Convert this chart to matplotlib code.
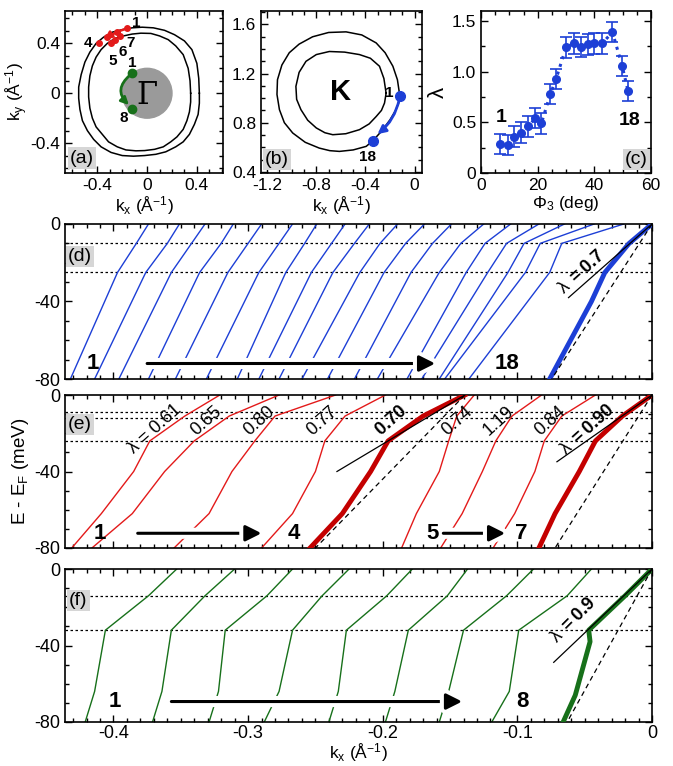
import numpy as np
import matplotlib
matplotlib.use("Agg")
import matplotlib.pyplot as plt
import matplotlib.patheffects as pe
from matplotlib.ticker import MultipleLocator, FuncFormatter

plt.rcParams['font.family'] = ['Liberation Sans', 'DejaVu Sans']
plt.rcParams['axes.unicode_minus'] = False
plt.rcParams['mathtext.fontset'] = 'custom'
plt.rcParams['mathtext.rm'] = 'Liberation Sans'
plt.rcParams['mathtext.it'] = 'Liberation Sans:italic'
plt.rcParams['mathtext.bf'] = 'Liberation Sans:bold'

BLUE = "#1d3fd6"
RED = "#e31a1a"
DRED = "#c40000"
GREEN = "#17701a"
BOXGRAY = "#d6d6d6"

# ---- (a) Fermi surface around Gamma ----
OUTER_A_KX = [0.42, 0.415, 0.40, 0.36, 0.30, 0.22, 0.14, 0.05, -0.04, -0.12, -0.20, -0.28,
              -0.35, -0.41, -0.46, -0.50, -0.53, -0.55, -0.55, -0.54, -0.52, -0.48, -0.43,
              -0.37, -0.29, -0.20, -0.11, -0.02, 0.07, 0.15, 0.23, 0.29, 0.34, 0.38, 0.41,
              0.42, 0.42]
OUTER_A_KY = [0.00, 0.12, 0.24, 0.35, 0.42, 0.47, 0.505, 0.525, 0.53, 0.525, 0.51, 0.49,
              0.45, 0.40, 0.33, 0.25, 0.15, 0.05, -0.04, -0.13, -0.22, -0.30, -0.37,
              -0.43, -0.475, -0.50, -0.505, -0.50, -0.49, -0.47, -0.43, -0.39, -0.33, -0.25,
              -0.17, -0.08, 0.00]
INNER_A_KX = [0.35, 0.345, 0.33, 0.29, 0.23, 0.17, 0.10, 0.03, -0.05, -0.12, -0.19, -0.26,
              -0.32, -0.37, -0.41, -0.44, -0.46, -0.47, -0.47, -0.46, -0.44, -0.41, -0.36,
              -0.31, -0.24, -0.17, -0.09, -0.02, 0.06, 0.13, 0.19, 0.24, 0.29, 0.32, 0.34,
              0.35, 0.35]
INNER_A_KY = [0.00, 0.10, 0.20, 0.31, 0.38, 0.43, 0.46, 0.48, 0.482, 0.475, 0.46, 0.44,
              0.40, 0.35, 0.29, 0.22, 0.14, 0.05, -0.03, -0.12, -0.20, -0.27, -0.33,
              -0.39, -0.43, -0.455, -0.462, -0.46, -0.45, -0.43, -0.39, -0.35, -0.29, -0.22,
              -0.15, -0.07, 0.00]
RED_KX = [-0.16, -0.24, -0.32, -0.39, -0.29, -0.26, -0.22]
RED_KY = [0.52, 0.49, 0.45, 0.40, 0.40, 0.43, 0.46]
GREEN_KX = [-0.12, -0.12]
GREEN_KY = [0.16, -0.13]

# ---- (b) Fermi surface around K ----
OUTER_B_KX = [-0.12, -0.14, -0.177, -0.24, -0.313, -0.43, -0.558, -0.70, -0.83, -0.94, -1.02,
              -1.08, -1.116, -1.12, -1.10, -1.06, -0.992, -0.89, -0.776, -0.69, -0.612,
              -0.50, -0.394, -0.34, -0.27, -0.20, -0.155, -0.13, -0.12]
OUTER_B_KY = [1.015, 1.15, 1.26, 1.37, 1.45, 1.515, 1.54, 1.535, 1.50, 1.44, 1.37,
              1.27, 1.15, 1.03, 0.906, 0.80, 0.716, 0.64, 0.593, 0.572, 0.566,
              0.578, 0.607, 0.653, 0.73, 0.824, 0.90, 0.96, 1.015]
INNER_B_KX = [-0.232, -0.25, -0.286, -0.36, -0.449, -0.57, -0.694, -0.80, -0.884, -0.94,
              -0.966, -0.96, -0.925, -0.87, -0.80, -0.73, -0.666, -0.56, -0.449, -0.37,
              -0.313, -0.27, -0.245, -0.232]
INNER_B_KY = [1.04, 1.16, 1.26, 1.325, 1.355, 1.375, 1.38, 1.355, 1.30, 1.21,
              1.096, 0.99, 0.906, 0.82, 0.757, 0.718, 0.702, 0.71, 0.743, 0.79,
              0.85, 0.90, 0.96, 1.04]
BLUE_KX = [-0.12, -0.34]
BLUE_KY = [1.015, 0.653]

# ---- (c) coupling constant vs angle ----
PHI = [6.8, 9.4, 11.8, 14.2, 16.6, 19.2, 21.3, 24.5, 26.5, 30.0, 32.7, 35.3, 37.6,
       40.0, 42.7, 46.4, 49.8, 51.9]
LAM = [0.29, 0.28, 0.36, 0.40, 0.46, 0.54, 0.49, 0.78, 0.93, 1.24, 1.28, 1.245, 1.27,
       1.28, 1.28, 1.39, 1.06, 0.81]
LAM_ERR = [0.10, 0.10, 0.10, 0.10, 0.10, 0.10, 0.10, 0.10, 0.10, 0.10, 0.10, 0.10, 0.10,
           0.10, 0.10, 0.10, 0.10, 0.10]

# ---- (d) blue dispersions (thin, offset) ----
D_E = [0, -10, -25, -80]
D_K0 = [-0.374, -0.351, -0.332, -0.311, -0.290, -0.267, -0.249, -0.228, -0.210,
        -0.189, -0.169, -0.149, -0.125, -0.105, -0.084, -0.065, -0.043, -0.021]
D_K10 = [-0.383, -0.360, -0.342, -0.320, -0.300, -0.277, -0.258, -0.238, -0.221,
         -0.202, -0.183, -0.163, -0.142, -0.124, -0.108, -0.095, -0.083, -0.067]
D_K25 = [-0.397, -0.376, -0.357, -0.336, -0.315, -0.292, -0.272, -0.253, -0.237,
         -0.217, -0.199, -0.179, -0.158, -0.138, -0.122, -0.107, -0.094, -0.076]
D_K80 = [-0.432, -0.414, -0.396, -0.374, -0.354, -0.331, -0.308, -0.292, -0.277,
         -0.260, -0.241, -0.221, -0.204, -0.182, -0.171, -0.158, -0.154, -0.136]
D_THICK_E = [0, -10, -25, -40, -80]
D_THICK_K = [0.0, -0.017, -0.035, -0.045, -0.076]

# ---- (e) red dispersions ----
E_E = [0, -11, -24, -40, -62, -80]
E_THIN = [
    [-0.321, -0.347, -0.373, -0.385, -0.409, -0.431],
    [-0.277, -0.314, -0.340, -0.362, -0.386, -0.416],
    [-0.235, -0.280, -0.295, -0.312, -0.329, -0.355],
    [-0.198, -0.228, -0.243, -0.250, -0.267, -0.290],
    [-0.132, -0.145, -0.151, -0.158, -0.175, -0.186],
    [-0.082, -0.104, -0.116, -0.126, -0.141, -0.157],
    [-0.042, -0.067, -0.080, -0.087, -0.102, -0.118],
]
E_THICK = [
    [-0.139, -0.170, -0.196, -0.209, -0.230, -0.254],
    [0.000, -0.022, -0.042, -0.054, -0.072, -0.084],
]
E_LAMBDAS = ["0.61", "0.65", "0.80", "0.77", "0.70", "0.74", "1.19", "0.84", "0.90"]

# ---- (f) green dispersions ----
F_E = [0, -14, -32, -64, -80]
F_THIN = [
    [-0.353, -0.374, -0.406, -0.414, -0.421],
    [-0.310, -0.332, -0.357, -0.364, -0.371],
    [-0.267, -0.286, -0.317, -0.322, -0.329],
    [-0.225, -0.245, -0.267, -0.277, -0.288],
    [-0.178, -0.197, -0.227, -0.233, -0.240],
    [-0.137, -0.152, -0.181, -0.191, -0.198],
    [-0.088, -0.108, -0.140, -0.151, -0.158],
    [-0.045, -0.063, -0.099, -0.106, -0.119],
]
F_THICK_E = [0, -14, -32, -38, -66, -80]
F_THICK_K = [0.0, -0.020, -0.047, -0.046, -0.057, -0.066]

W, H = 673, 766
fig = plt.figure(figsize=(W / 100, H / 100), dpi=100)


def add_ax(x, y, w, h):
    return fig.add_axes([x / W, 1 - (y + h) / H, w / W, h / H])


def fmt1(v, p):
    return "0" if abs(v) < 1e-9 else f"{v:.1f}"


def style(ax, xmaj, xmin, ymaj, ymin, size=12.5):
    ax.xaxis.set_major_locator(MultipleLocator(xmaj))
    ax.xaxis.set_minor_locator(MultipleLocator(xmin))
    ax.yaxis.set_major_locator(MultipleLocator(ymaj))
    ax.yaxis.set_minor_locator(MultipleLocator(ymin))
    ax.tick_params(which='both', direction='in', top=True, right=True,
                   labelsize=size, width=1)
    ax.tick_params(which='major', length=5)
    ax.tick_params(which='minor', length=3)
    for s in ax.spines.values():
        s.set_linewidth(1.2)


def panel_label(ax, txt, x, y, ha='left', va='bottom'):
    ax.text(x, y, txt, transform=ax.transAxes, fontsize=14, ha=ha, va=va,
            bbox=dict(facecolor=BOXGRAY, edgecolor='none', pad=1.5))


KX_LABEL = r"k$_\mathrm{x}$ (Å$^{-1}$)"

# ---------------- (a) ----------------
ax = add_ax(65, 11, 158, 162)
ax.add_patch(plt.Circle((0, 0), 0.2, color='#9a9a9a', zorder=1))
ax.plot(OUTER_A_KX, OUTER_A_KY, color='k', lw=1.1)
ax.plot(INNER_A_KX, INNER_A_KY, color='k', lw=1.1)
ax.text(0.0, -0.02, "Γ", fontsize=22, family='DejaVu Serif', ha='center', va='center')
ax.plot(RED_KX, RED_KY, 'o', color=RED, ms=4, zorder=4)
ax.annotate("", xy=(RED_KX[3] + 0.03, RED_KY[3] + 0.02), xytext=(RED_KX[0], RED_KY[0]),
            arrowprops=dict(arrowstyle='-|>', color=RED, lw=1.8, mutation_scale=11,
                            connectionstyle="arc3,rad=0.1"), zorder=5)
ax.plot(GREEN_KX, GREEN_KY, 'o', color=GREEN, ms=6, zorder=4)
ax.annotate("", xy=(GREEN_KX[1] - 0.01, GREEN_KY[1] + 0.02), xytext=(GREEN_KX[0], GREEN_KY[0]),
            arrowprops=dict(arrowstyle='-|>', color=GREEN, lw=2, mutation_scale=11,
                            connectionstyle="arc3,rad=0.6"), zorder=5)
for t, (x, y) in zip(["1", "4", "5", "6", "7"],
                     [(-0.09, 0.56), (-0.475, 0.40), (-0.28, 0.26), (-0.20, 0.33), (-0.13, 0.40)]):
    ax.text(x, y, t, fontsize=11, fontweight='bold', ha='center', va='center')
ax.text(-0.12, 0.24, "1", fontsize=11, fontweight='bold', ha='center', va='center')
ax.text(-0.19, -0.20, "8", fontsize=11, fontweight='bold', ha='center', va='center')
ax.set_xlim(-0.66, 0.61)
ax.set_ylim(-0.64, 0.66)
style(ax, 0.4, 0.1, 0.4, 0.1)
ax.xaxis.set_major_formatter(FuncFormatter(lambda v, p: f"{v:g}"))
ax.yaxis.set_major_formatter(FuncFormatter(lambda v, p: f"{v:g}"))
ax.set_xlabel(KX_LABEL, fontsize=12.5, labelpad=1)
ax.set_ylabel(r"k$_\mathrm{y}$ (Å$^{-1}$)", fontsize=12.5, labelpad=0)
panel_label(ax, "(a)", 0.03, 0.04)

# ---------------- (b) ----------------
ax = add_ax(261, 11, 161, 162)
ax.plot(OUTER_B_KX, OUTER_B_KY, color='k', lw=1.1)
ax.plot(INNER_B_KX, INNER_B_KY, color='k', lw=1.1)
ax.text(-0.6, 1.05, "K", fontsize=21, fontweight='bold', ha='center', va='center')
ax.plot(BLUE_KX, BLUE_KY, 'o', color=BLUE, ms=7, zorder=4)
ax.annotate("", xy=(BLUE_KX[1] + 0.02, BLUE_KY[1] + 0.04), xytext=(BLUE_KX[0], BLUE_KY[0]),
            arrowprops=dict(arrowstyle='-|>', color=BLUE, lw=2, mutation_scale=12,
                            connectionstyle="arc3,rad=-0.2"), zorder=5)
ax.text(-0.21, 1.04, "1", fontsize=11, fontweight='bold', ha='center', va='center')
ax.text(-0.38, 0.52, "18", fontsize=11, fontweight='bold', ha='center', va='center')
ax.set_xlim(-1.25, 0.06)
ax.set_ylim(0.39, 1.71)
style(ax, 0.4, 0.1, 0.4, 0.1)
ax.xaxis.set_major_formatter(FuncFormatter(lambda v, p: f"{v:g}"))
ax.yaxis.set_major_formatter(FuncFormatter(lambda v, p: f"{v:g}"))
ax.set_xlabel(KX_LABEL, fontsize=12.5, labelpad=1)
panel_label(ax, "(b)", 0.025, 0.03)

# ---------------- (c) ----------------
ax = add_ax(481, 11, 170, 162)
ax.plot(PHI, LAM, ':', color=BLUE, lw=2.2)
ax.errorbar(PHI, LAM, yerr=LAM_ERR, fmt='o', color=BLUE, ms=5.5, capsize=4,
            elinewidth=1.2, capthick=1.2)
ax.text(7, 0.55, "1", fontsize=14, fontweight='bold', ha='center', va='center')
ax.text(52.5, 0.52, "18", fontsize=14, fontweight='bold', ha='center', va='center')
ax.set_xlim(0, 60)
ax.set_ylim(0, 1.6)
style(ax, 20, 5, 0.5, 0.25)
ax.yaxis.set_major_formatter(FuncFormatter(fmt1))
ax.set_xlabel(r"Φ$_3$ (deg)", fontsize=12.5, labelpad=1)
ax.set_ylabel("λ", fontsize=16, labelpad=2)
panel_label(ax, "(c)", 0.98, 0.03, ha='right')


# ---------------- main panels ----------------
def main_axes(y, h):
    a = add_ax(65, y, 587, h)
    a.set_xlim(-0.436, 0)
    a.set_ylim(-80, 0)
    style(a, 0.1, 0.01, 40, 10, size=13)
    a.xaxis.set_major_formatter(FuncFormatter(fmt1))
    a.yaxis.set_major_formatter(FuncFormatter(lambda v, p: f"{v:.0f}"))
    return a


def arrow(a, x0, x1, e):
    ann = a.annotate("", xy=(x1, e), xytext=(x0, e),
                     arrowprops=dict(arrowstyle='-|>', color='k', lw=2.2,
                                     mutation_scale=24, shrinkA=0, shrinkB=0), zorder=6)
    ann.arrow_patch.set_path_effects([pe.Stroke(linewidth=8, foreground='white'), pe.Normal()])


def hlines(a, levels):
    for e in levels:
        a.axhline(e, color='k', lw=0.9, ls=(0, (2, 2)), zorder=1)


def num(a, x, e, t):
    a.text(x, e, t, fontsize=16, fontweight='bold', ha='center', va='center', zorder=7)


# (d)
ax = main_axes(224, 155)
hlines(ax, [-10, -25])
for i in range(len(D_K0)):
    ax.plot([D_K0[i], D_K10[i], D_K25[i], D_K80[i]], D_E, color=BLUE, lw=1.0, zorder=2)
ax.plot(D_THICK_K, D_THICK_E, color=BLUE, lw=3.5, zorder=3)
ax.plot([0, -0.062], [0, -38], color='k', lw=0.9, zorder=4)
ax.plot([0, -0.0745], [0, -80], color='k', lw=0.9, ls=(0, (4, 3)), zorder=4)
ax.text(-0.052, -25, "λ $\\mathbf{= 0.7}$", fontsize=13, rotation=42,
        ha='center', va='center', zorder=5)
arrow(ax, -0.375, -0.161, -72)
num(ax, -0.415, -72, "1")
num(ax, -0.108, -72, "18")
ax.tick_params(labelbottom=False)
panel_label(ax, "(d)", 0.005, 0.735)

# (e)
ax = main_axes(395, 153)
hlines(ax, [-9, -12, -24])
for ks in E_THIN:
    ax.plot(ks, E_E, color=RED, lw=1.0, zorder=2)
for ks in E_THICK:
    ax.plot(ks, E_E, color=DRED, lw=3.5, zorder=3)
ax.plot([-0.139, -0.234], [0, -40], color='k', lw=0.9, zorder=4)
ax.plot([-0.139, -0.250], [0, -80], color='k', lw=0.9, ls=(0, (4, 3)), zorder=4)
ax.plot([0, -0.0706], [0, -34.9], color='k', lw=0.9, zorder=4)
ax.plot([0, -0.072], [0, -80], color='k', lw=0.9, ls=(0, (4, 3)), zorder=4)
lam_pos = [(-0.369, -18), (-0.331, -13.5), (-0.292, -13.5), (-0.245, -13.5),
           (-0.194, -13.5), (-0.145, -13.5), (-0.114, -13.5), (-0.0755, -13.5), (-0.048, -18)]
for j, (txt, (x, e)) in enumerate(zip(E_LAMBDAS, lam_pos)):
    if j == 0:
        s = "λ = " + txt
    elif j == 8:
        s = "λ $\\mathbf{= " + txt + "}$"
    elif j == 4:
        s = "$\\mathbf{" + txt + "}$"
    else:
        s = txt
    ax.text(x, e, s, fontsize=13, rotation=42, ha='center', va='center', zorder=5)
arrow(ax, -0.382, -0.290, -72.3)
arrow(ax, -0.155, -0.109, -72.3)
num(ax, -0.410, -72.3, "1")
num(ax, -0.266, -72.3, "4")
num(ax, -0.163, -72.3, "5")
num(ax, -0.097, -72.3, "7")
ax.tick_params(labelbottom=False)
ax.set_ylabel(r"E - E$_\mathrm{F}$ (meV)", fontsize=13.5, labelpad=2)
panel_label(ax, "(e)", 0.005, 0.75)

# (f)
ax = main_axes(569, 153)
hlines(ax, [-14, -32])
for ks in F_THIN:
    ax.plot(ks, F_E, color=GREEN, lw=1.0, zorder=2)
ax.plot(F_THICK_K, F_THICK_E, color=GREEN, lw=3.5, zorder=3)
ax.plot([0, -0.073], [0, -48.8], color='k', lw=0.9, zorder=4)
ax.plot([0, -0.063], [0, -80], color='k', lw=0.9, ls=(0, (4, 3)), zorder=4)
ax.text(-0.058, -27, "λ $\\mathbf{= 0.9}$", fontsize=13, rotation=45,
        ha='center', va='center', zorder=5)
arrow(ax, -0.357, -0.141, -69.3)
num(ax, -0.399, -69.3, "1")
num(ax, -0.0966, -69.3, "8")
ax.tick_params(axis='x', pad=2)
ax.set_xlabel(KX_LABEL, fontsize=12.5, labelpad=0)
panel_label(ax, "(f)", 0.007, 0.74)

fig.savefig("out.png", dpi=100)
